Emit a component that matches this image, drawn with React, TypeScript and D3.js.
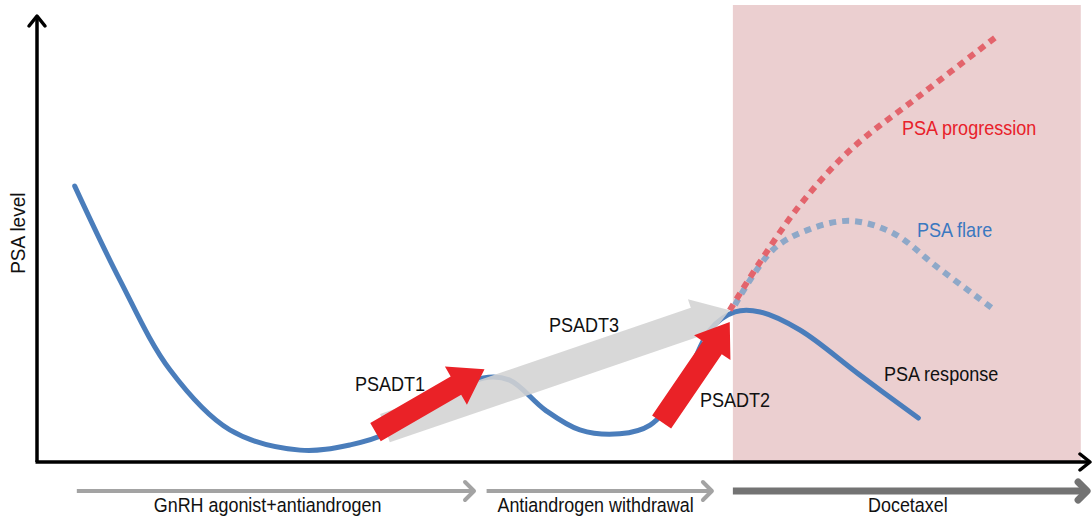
import React from 'react';
import * as d3 from 'd3';

// PSA level over time (arbitrary units 0-100)
const responseCurve: [number, number][] = [
  [3.6, 62.7], [7.9, 41.4], [12.7, 20.9], [18.4, 7.3], [25.1, 2.7], [29.9, 3.9],
  [33.7, 6.8], [38.5, 14.1], [42.6, 19.1], [45.1, 18.6], [48.5, 11.8], [51.8, 7.3],
  [55.6, 6.4], [58.5, 8.4], [61.4, 16.4], [64.2, 30.0], [66.6, 34.1], [69.0, 34.1],
  [72.8, 30.0], [78.5, 19.8], [84.1, 10.0],
];
const progressionCurve: [number, number][] = [
  [66.1, 34.5], [69.0, 45.5], [72.8, 58.4], [77.6, 70.9], [84.3, 83.4], [91.4, 96.4],
];
const flareCurve: [number, number][] = [
  [66.6, 35.7], [70.2, 48.2], [73.5, 52.7], [77.6, 54.8], [81.7, 52.0], [85.9, 44.3], [91.4, 34.5],
];

const doubleTimes = [
  { name: 'PSADT3', from: [33.2, 7.7], to: [66.1, 34.5], color: '#d3d3d3' },
  { name: 'PSADT1', from: [32.3, 6.8], to: [42.7, 21.1], color: '#ea2227' },
  { name: 'PSADT2', from: [59.6, 9.1], to: [66.1, 31.8], color: '#ea2227' },
];

const phases = [
  { label: 'GnRH agonist+antiandrogen', start: 3.8, end: 41.7, labelAt: 22.0 },
  { label: 'Antiandrogen withdrawal', start: 42.9, end: 64.4, labelAt: 53.3 },
  { label: 'Docetaxel', start: 66.4, end: 100.2, labelAt: 83.1 },
];
const docetaxelStart = 66.4;

const W = 1092;
const H = 517;
const FONT = '"Liberation Sans Narrow", "Liberation Sans", Arial, sans-serif';

const x = d3.scaleLinear().domain([0, 100]).range([37, 1085]);
const y = d3.scaleLinear().domain([0, 100]).range([462, 22]);

const line = d3.line<[number, number]>()
  .x(d => x(d[0]))
  .y(d => y(d[1]))
  .curve(d3.curveCatmullRom.alpha(0.5));

function arrowPath(from: number[], to: number[], body: number, head: number, headLen: number) {
  const x0 = x(from[0]), y0 = y(from[1]);
  const x1 = x(to[0]), y1 = y(to[1]);
  const dx = x1 - x0, dy = y1 - y0;
  const len = Math.hypot(dx, dy);
  const ux = dx / len, uy = dy / len;
  const px = -uy, py = ux;
  const bx = x1 - ux * headLen, by = y1 - uy * headLen;
  const pts = [
    [x0 + px * body / 2, y0 + py * body / 2],
    [bx + px * body / 2, by + py * body / 2],
    [bx + px * head / 2, by + py * head / 2],
    [x1, y1],
    [bx - px * head / 2, by - py * head / 2],
    [bx - px * body / 2, by - py * body / 2],
    [x0 - px * body / 2, y0 - py * body / 2],
  ];
  return 'M' + pts.map(p => p.join(',')).join('L') + 'Z';
}

// condensed-looking label
const Label = ({ tx, ty, text, fill = '#111', size = 20.5, sx = 0.88, anchor = 'start', rotate = 0 }:
  { tx: number; ty: number; text: string; fill?: string; size?: number; sx?: number; anchor?: string; rotate?: number }) => (
  <text
    transform={`translate(${tx},${ty}) rotate(${rotate}) scale(${sx},1)`}
    textAnchor={anchor}
    fontFamily={FONT}
    fontSize={size}
    fill={fill}
  >{text}</text>
);

export default function App() {
  const axisY = y(0);
  const phaseY = 491;
  return (
    <svg width={W} height={H} style={{ position: 'absolute', left: 0, top: 0, background: '#fff' }}>
      {/* docetaxel period */}
      <rect x={x(docetaxelStart)} y={5} width={x(99.6) - x(docetaxelStart)} height={axisY - 5} fill="#ebcfd0" />

      <path d={line(responseCurve) || ''} fill="none" stroke="#4a7dbb" strokeWidth={5} strokeLinecap="round" />

      <path d={arrowPath(doubleTimes[0].from, doubleTimes[0].to, 30, 48, 36)} fill={doubleTimes[0].color} opacity={0.88} />
      <path d={arrowPath(doubleTimes[1].from, doubleTimes[1].to, 21, 44, 33)} fill={doubleTimes[1].color} />
      <path d={arrowPath(doubleTimes[2].from, doubleTimes[2].to, 23, 44, 31)} fill={doubleTimes[2].color} />

      <path d={line(flareCurve) || ''} fill="none" stroke="#8ea8c8" strokeWidth={6} strokeDasharray="7 6" />
      <path d={line(progressionCurve) || ''} fill="none" stroke="#e3646c" strokeWidth={6} strokeDasharray="7 6" />

      {/* axes */}
      <path d={`M${x(0)},${axisY}V${y(100) - 6}`} stroke="#000" strokeWidth={3.5} fill="none" />
      <path d={`M${x(0) - 8},${y(100) + 4}L${x(0)},${y(100) - 6}L${x(0) + 8},${y(100) + 4}`} stroke="#000" strokeWidth={3.5} fill="none" strokeLinecap="round" strokeLinejoin="round" />
      <path d={`M${x(0) - 1.5},${axisY}H${x(100) + 4}`} stroke="#000" strokeWidth={3.5} fill="none" />
      <path d={`M${x(100) - 5},${axisY - 8}L${x(100) + 5},${axisY}L${x(100) - 5},${axisY + 8}`} stroke="#000" strokeWidth={3.5} fill="none" strokeLinecap="round" strokeLinejoin="round" />

      <Label tx={25} ty={y(52)} text="PSA level" anchor="middle" rotate={-90} size={20} sx={0.95} />

      {/* treatment phases */}
      {phases.map((p, i) => {
        const last = i === phases.length - 1;
        const col = last ? '#737373' : '#a3a3a3';
        const sw = last ? 7 : 4;
        const x0 = x(p.start), x1 = x(p.end);
        return (
          <g key={p.label}>
            <path d={`M${x0},${phaseY}H${x1 - 2}`} stroke={col} strokeWidth={sw} fill="none" />
            <path d={`M${x1 - 9},${phaseY - 9}L${x1},${phaseY}L${x1 - 9},${phaseY + 9}`} stroke={col} strokeWidth={sw} fill="none" strokeLinecap="round" strokeLinejoin="round" />
            <Label tx={x(p.labelAt)} ty={512} text={p.label} anchor="middle" size={19.5} sx={0.92} />
          </g>
        );
      })}

      {/* labels */}
      <Label tx={355} ty={391} text="PSADT1" />
      <Label tx={549} ty={332} text="PSADT3" />
      <Label tx={700} ty={407} text="PSADT2" />
      <Label tx={902} ty={135} text="PSA progression" fill="#e8212a" />
      <Label tx={917} ty={237} text="PSA flare" fill="#3a78c0" />
      <Label tx={884} ty={381} text="PSA response" />
    </svg>
  );
}
